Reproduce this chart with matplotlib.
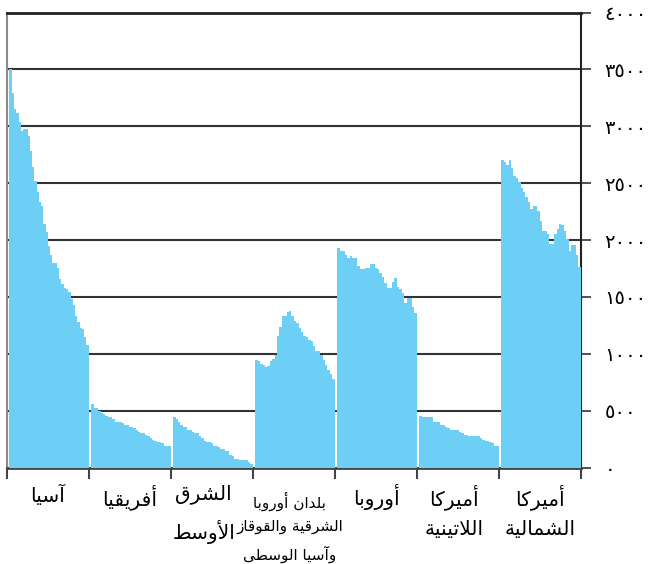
import matplotlib
matplotlib.use('Agg')
import matplotlib.pyplot as plt
import matplotlib.transforms as mtransforms
from matplotlib.ticker import FixedLocator, FuncFormatter

plt.rcParams['font.family'] = ['DejaVu Sans']

# regions, left to right as in the chart
regions = ['آسيا', 'أفريقيا', 'الشرق\nالأوسط', 'بلدان أوروبا\nالشرقية والقوقاز\nوآسيا الوسطى',
           'أوروبا', 'أميركا\nاللاتينية', 'أميركا\nالشمالية']

asia = [3500, 3290, 3150, 3120, 3040, 2960, 2980, 2980, 2910, 2780, 2640, 2520, 2420, 2330, 2295,
        2140, 2070, 1950, 1870, 1800, 1800, 1750, 1655, 1610, 1575, 1565, 1545, 1485, 1425, 1335,
        1275, 1230, 1215, 1145, 1080]
africa = [555, 527, 519, 501, 483, 466, 457, 448, 440, 422, 404, 396, 396, 387, 378, 378, 360,
          352, 343, 334, 316, 299, 299, 290, 273, 255, 246, 237, 220, 220, 211, 193, 193, 185]
middle_east = [440, 422, 396, 378, 360, 352, 334, 334, 316, 299, 299, 281, 255, 237, 220, 220,
               211, 185, 185, 176, 167, 167, 149, 141, 114, 105, 79, 79, 70, 62, 62, 62, 44, 35]
east_europe = [949, 932, 914, 905, 885, 888, 932, 958, 993, 1152, 1231, 1336, 1336, 1371, 1380,
               1336, 1292, 1266, 1222, 1187, 1160, 1143, 1125, 1108, 1064, 1020, 1020, 985, 949,
               905, 853, 826, 774]
europe = [1934, 1899, 1899, 1864, 1846, 1855, 1846, 1846, 1770, 1741, 1741, 1758, 1758, 1785,
          1785, 1758, 1749, 1714, 1679, 1618, 1580, 1582, 1635, 1670, 1591, 1565, 1538, 1442,
          1486, 1486, 1407, 1354]
latin_america = [457, 448, 448, 448, 440, 440, 404, 396, 396, 378, 378, 352, 343, 334, 334, 334,
                 334, 316, 299, 290, 290, 281, 281, 281, 281, 273, 255, 246, 237, 237, 220, 211,
                 193, 185]
north_america = [2700, 2690, 2655, 2700, 2630, 2567, 2549, 2514, 2453, 2426, 2374, 2330, 2270,
                 2303, 2303, 2251, 2171, 2075, 2075, 2057, 1969, 1969, 2057, 2101, 2145, 2136,
                 2075, 2013, 1905, 1952, 1952, 1864, 1767]

series = [asia, africa, middle_east, east_europe, europe, latin_america, north_america]
yticks = [0, 500, 1000, 1500, 2000, 2500, 3000, 3500, 4000]

# matplotlib does no arabic shaping, so map letters to presentation forms by hand
FORMS = {
    'ء': (0xFE80, 'U'), 'آ': (0xFE81, 'R'), 'أ': (0xFE83, 'R'), 'ؤ': (0xFE85, 'R'),
    'إ': (0xFE87, 'R'), 'ئ': (0xFE89, 'D'), 'ا': (0xFE8D, 'R'), 'ب': (0xFE8F, 'D'),
    'ة': (0xFE93, 'R'), 'ت': (0xFE95, 'D'), 'ث': (0xFE99, 'D'), 'ج': (0xFE9D, 'D'),
    'ح': (0xFEA1, 'D'), 'خ': (0xFEA5, 'D'), 'د': (0xFEA9, 'R'), 'ذ': (0xFEAB, 'R'),
    'ر': (0xFEAD, 'R'), 'ز': (0xFEAF, 'R'), 'س': (0xFEB1, 'D'), 'ش': (0xFEB5, 'D'),
    'ص': (0xFEB9, 'D'), 'ض': (0xFEBD, 'D'), 'ط': (0xFEC1, 'D'), 'ظ': (0xFEC5, 'D'),
    'ع': (0xFEC9, 'D'), 'غ': (0xFECD, 'D'), 'ف': (0xFED1, 'D'), 'ق': (0xFED5, 'D'),
    'ك': (0xFED9, 'D'), 'ل': (0xFEDD, 'D'), 'م': (0xFEE1, 'D'), 'ن': (0xFEE5, 'D'),
    'ه': (0xFEE9, 'D'), 'و': (0xFEED, 'R'), 'ى': (0xFEEF, 'R'), 'ي': (0xFEF1, 'D'),
}
LAM_ALEF = {'آ': 0xFEF5, 'أ': 0xFEF7, 'إ': 0xFEF9, 'ا': 0xFEFB}


def shape_line(s):
    out = []
    i = 0
    while i < len(s):
        c = s[i]
        if c not in FORMS:
            out.append(c)
            i += 1
            continue
        base, kind = FORMS[c]
        prev = i > 0 and s[i - 1] in FORMS and FORMS[s[i - 1]][1] == 'D' and kind != 'U'
        if c == 'ل' and i + 1 < len(s) and s[i + 1] in LAM_ALEF:
            out.append(chr(LAM_ALEF[s[i + 1]] + (1 if prev else 0)))
            i += 2
            continue
        nxt = kind == 'D' and i + 1 < len(s) and s[i + 1] in FORMS and FORMS[s[i + 1]][1] != 'U'
        if kind == 'D':
            off = [[0, 2], [1, 3]][prev][nxt]
        elif kind == 'R':
            off = 1 if prev else 0
        else:
            off = 0
        out.append(chr(base + off))
        i += 1
    return ''.join(reversed(out))


def arabic_digits(v, pos=None):
    return str(int(v)).translate(str.maketrans('0123456789', '٠١٢٣٤٥٦٧٨٩'))


fig = plt.figure(figsize=(6.56, 5.64), dpi=100)
ax = fig.add_axes([7 / 656, 96.5 / 564, 574 / 656, 455 / 564])

for i, vals in enumerate(series):
    n = len(vals)
    w = 0.965 / n
    xs = [i + 0.03 + w * (j + 0.5) for j in range(n)]
    ax.bar(xs, vals, width=w, color='#6dcff6', linewidth=0, zorder=3)

ax.set_xlim(0, 7)
ax.set_ylim(0, 4000)

ax.yaxis.set_major_locator(FixedLocator(yticks))
ax.yaxis.set_major_formatter(FuncFormatter(arabic_digits))
ax.yaxis.grid(True, color='#333333', linewidth=1.5, zorder=1)
ax.set_axisbelow(True)
ax.tick_params(axis='y', left=False, labelleft=False, right=True, labelright=True,
               direction='out', length=7, width=1.2, color='#333333', pad=10, labelsize=14)

ax.set_xticks(range(8))
ax.set_xticklabels([])
ax.tick_params(axis='x', direction='out', length=8, width=1.5, color='#444444')

ax.spines['left'].set_color('#8a8a8a')
ax.spines['left'].set_linewidth(1.5)
ax.spines['bottom'].set_color('#444444')
ax.spines['bottom'].set_linewidth(2)
ax.spines['right'].set_color('#222222')
ax.spines['right'].set_linewidth(1.5)
ax.spines['top'].set_color('#222222')
ax.spines['top'].set_linewidth(2)

trans = mtransforms.blended_transform_factory(ax.transData, ax.transAxes)
label_x = [0.5, 1.5, 2.4, 3.45, 4.5, 5.45, 6.5]
for i, lab in enumerate(regions):
    lines = lab.split('\n')
    small = len(lines) > 2
    size = 11 if small else 14.5
    step = 27 if small else 35
    top = 24 if small else 17
    for k, line in enumerate(lines):
        y = -(top + k * step) / 455
        ax.text(label_x[i], y, shape_line(line), transform=trans, ha='center', va='top',
                fontsize=size, color='black')

fig.savefig('out.png', dpi=100)
